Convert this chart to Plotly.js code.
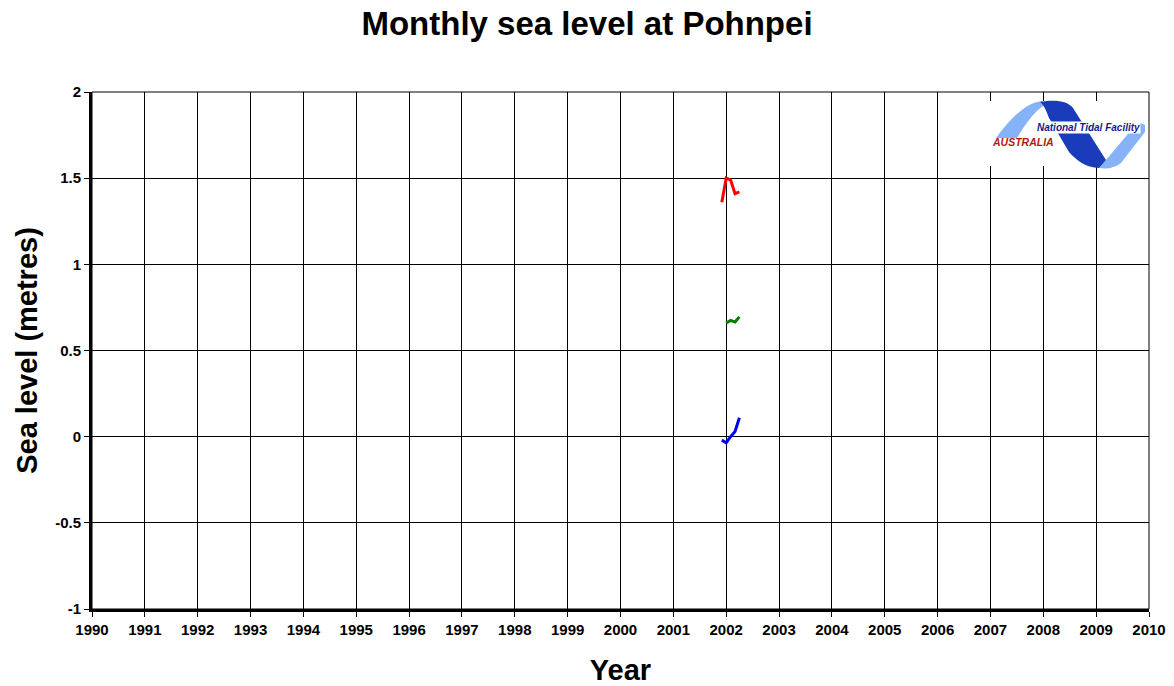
<!DOCTYPE html>
<html>
<head>
<meta charset="utf-8">
<script src="https://cdn.plot.ly/plotly-3.0.1.min.js"></script>
<style>html,body{margin:0;padding:0;background:#fff;}#chart{width:1174px;height:686px;}</style>
</head>
<body>
<div id="chart"></div>
<script>
// Data (decimal year, sea level in metres)
const maxTimes = [2001.917, 2002.0, 2002.083, 2002.167, 2002.25];
const maxLevel = [1.36, 1.50, 1.49, 1.41, 1.42];
const meanTimes = [2002.0, 2002.083, 2002.167, 2002.25];
const meanLevel = [0.66, 0.675, 0.665, 0.695];
const minTimes = [2001.917, 2002.0, 2002.083, 2002.167, 2002.25];
const minLevel = [-0.02, -0.035, 0.0, 0.03, 0.11];
const yTickVals = [-1, -0.5, 0, 0.5, 1, 1.5, 2];
const yTickText = ['-1', '-0.5', '0', '0.5', '1', '1.5', '2'];
const xTickVals = [1990,1991,1992,1993,1994,1995,1996,1997,1998,1999,2000,2001,2002,2003,2004,2005,2006,2007,2008,2009,2010];
const xTickText = xTickVals.map(String);

const FONT = 'Liberation Sans, Arial, sans-serif';
const mk = (x, y, c) => ({x: x, y: y, type: 'scatter', mode: 'lines', line: {color: c, width: 3}, showlegend: false, hoverinfo: 'skip'});
const traces = [mk(maxTimes, maxLevel, '#ff0000'), mk(meanTimes, meanLevel, '#008000'), mk(minTimes, minLevel, '#0000ff')];

// logo helper: pixel -> paper
const L = 92, R = 1149, T = 92, B = 609;
const px = v => ((v - L) / (R - L)).toFixed(4);
const py = v => ((B - v) / (B - T)).toFixed(4);
function path(cmds) {
  return cmds.map(c => (typeof c === 'string') ? c : px(c[0]) + ',' + py(c[1])).join(' ');
}
const lightPathA = path(['M', [996,138], 'L', [1017,138], 'C', [1025,125], [1033,112], [1046,104], 'L', [1042,101], 'C', [1030,102], [1015,112], [996,138], 'Z']);
const darkPath = path(['M', [1040,102], 'C', [1055,99], [1068,101], [1073,108], 'L', [1106,160], 'L', [1099,168], 'C', [1086,168], [1076,160], [1069,152], 'L', [1049,118], 'C', [1046,110], [1044,105], [1040,102], 'Z']);
const lightPathB = path(['M', [1099,168], 'L', [1106,160], 'L', [1138,122], 'L', [1145,125], 'L', [1145,132], 'L', [1121,163], 'C', [1113,169], [1105,169], [1099,168], 'Z']);

const layout = {
  width: 1174, height: 686,
  margin: {l: 92, r: 25, t: 92, b: 77},
  paper_bgcolor: '#fff', plot_bgcolor: '#fff',
  font: {family: FONT, color: '#000'},
  title: {text: '<b>Monthly sea level at Pohnpei</b>', font: {family: FONT, size: 33, color: '#000'}, x: 0.5, xanchor: 'center', y: 0.966, yanchor: 'middle'},
  xaxis: {
    range: [1990, 2010], tickvals: xTickVals, ticktext: xTickText.map(t => '<b>' + t + '</b>'),
    showgrid: true, gridcolor: '#000', gridwidth: 1, zeroline: false,
    showline: true, linecolor: '#000', linewidth: 3,
    ticks: 'outside', ticklen: 5, tickcolor: '#000', tickwidth: 1,
    tickfont: {family: FONT, size: 15, color: '#000'},
    title: {text: '<b>Year</b>', font: {family: FONT, size: 29, color: '#000'}, standoff: 29}
  },
  yaxis: {
    range: [-1, 2], tickvals: yTickVals, ticktext: yTickText.map(t => '<b>' + t + '</b>'),
    showgrid: true, gridcolor: '#000', gridwidth: 1, zeroline: false,
    showline: true, linecolor: '#000', linewidth: 3,
    ticks: 'outside', ticklen: 5, tickcolor: '#000', tickwidth: 1,
    tickfont: {family: FONT, size: 15, color: '#000'},
    title: {text: '<b>Sea level (metres)</b>', font: {family: FONT, size: 29, color: '#000'}, standoff: 9}
  },
  shapes: [
    {type: 'rect', xref: 'paper', yref: 'paper', x0: 0, x1: 1, y0: 0, y1: 1, line: {color: '#000', width: 1}, layer: 'above'},
    {type: 'rect', xref: 'paper', yref: 'paper', x0: px(987), x1: px(1146), y0: py(166), y1: py(101), fillcolor: '#fff', line: {width: 0}, layer: 'above'},
    {type: 'path', xref: 'paper', yref: 'paper', path: lightPathA, fillcolor: '#86b3f7', line: {width: 0}, layer: 'above'},
    {type: 'path', xref: 'paper', yref: 'paper', path: lightPathB, fillcolor: '#86b3f7', line: {width: 0}, layer: 'above'},
    {type: 'path', xref: 'paper', yref: 'paper', path: darkPath, fillcolor: '#1a3cbb', line: {width: 0}, layer: 'above'}
  ],
  annotations: [
    {xref: 'paper', yref: 'paper', x: px(1088), y: py(128), text: '<b><i>National Tidal Facility</i></b>', showarrow: false, xanchor: 'center', yanchor: 'middle', bgcolor: '#fff', borderpad: 0, font: {family: FONT, size: 10, color: '#141a8c'}},
    {xref: 'paper', yref: 'paper', x: px(1023), y: py(142), text: '<b><i>AUSTRALIA</i></b>', showarrow: false, xanchor: 'center', yanchor: 'middle', font: {family: FONT, size: 10.5, color: '#b01818'}}
  ]
};

Plotly.newPlot('chart', traces, layout, {displayModeBar: false, staticPlot: true});
</script>
</body>
</html>
